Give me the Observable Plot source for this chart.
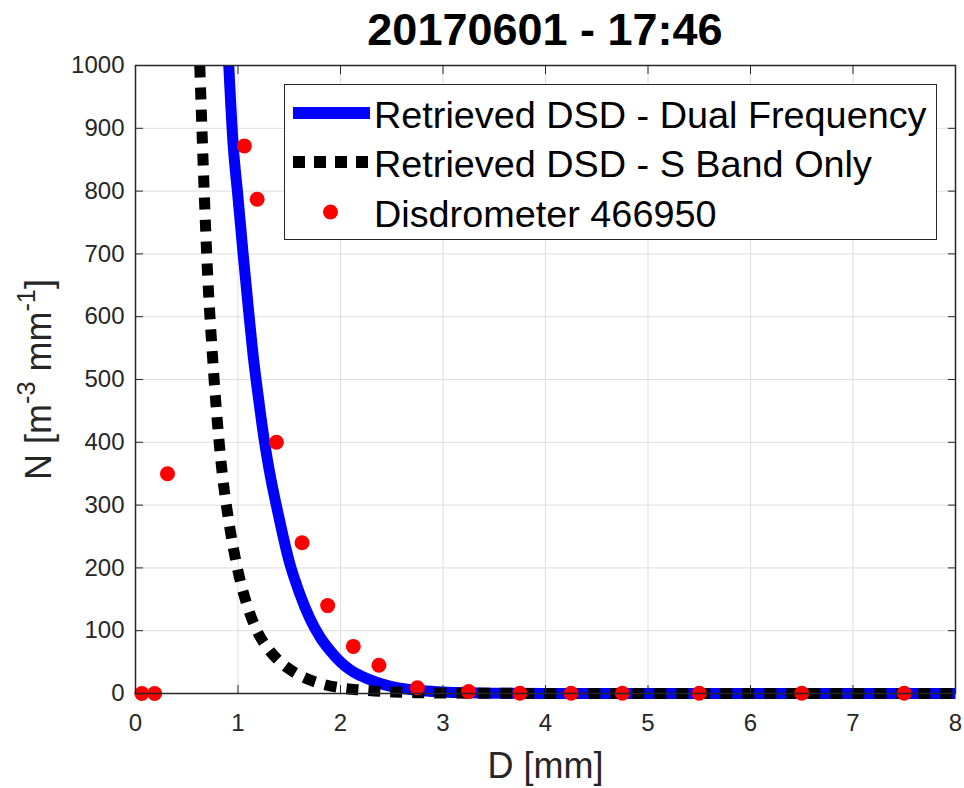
<!DOCTYPE html>
<html>
<head>
<meta charset="utf-8">
<script src="https://cdn.jsdelivr.net/npm/d3@7"></script>
<script src="https://cdn.jsdelivr.net/npm/@observablehq/plot@0.6"></script>
<style>
  html, body { margin: 0; padding: 0; background: #fff; }
  #wrap { position: relative; width: 964px; height: 788px; font-family: "Liberation Sans", Arial, sans-serif; }
  #title { height: 53px; padding-top: 2px; padding-left: 135px; width: 820px; text-align: center;
           font-weight: bold; font-size: 45px; line-height: 55px; color: #000; white-space: nowrap; }
  #legend { position: absolute; left: 284px; top: 84px; width: 653px; height: 156px; box-sizing: border-box;
            border: 1.5px solid #262626; background: #fff; }
  .row { position: absolute; left: 0; width: 100%; height: 49.5px; }
  .row svg { position: absolute; left: 8px; top: 14.75px; }
  .row span { position: absolute; left: 89px; top: 3px; font-size: 37.8px; line-height: 49.5px; color: #000; white-space: nowrap; }
</style>
</head>
<body>
<div id="wrap">
  <div id="title"></div>
  <div id="chart"></div>
  <div id="legend"></div>
</div>
<script>
// ---- data ----
const titleText = "20170601 - 17:46";

// Disdrometer 466950 (drop diameter bins, mm) and concentration
const disdroD = [0.062, 0.187, 0.312, 1.062, 1.187, 1.375, 1.625, 1.875, 2.125, 2.375, 2.75, 3.25, 3.75, 4.25, 4.75, 5.5, 6.5, 7.5];
const disdroN = [0, 0, 350, 872, 787, 400, 240, 140, 75, 45, 9, 3, 0.5, 0.5, 0.5, 0.5, 0.5, 0.5];

// Retrieved DSD - Dual Frequency
const dualD = [0.91, 0.95, 1.0, 1.05, 1.1, 1.15, 1.2, 1.25, 1.3, 1.4, 1.5, 1.6, 1.7, 1.8, 1.9, 2.0, 2.1, 2.2, 2.35, 2.5, 2.65, 2.8, 3.0, 3.25, 3.5, 4.0, 5.0, 6.0, 7.0, 8.0];
const dualN = [1000, 880, 790, 700, 615, 535, 470, 410, 360, 280, 210, 160, 120, 90, 68, 50, 37, 28, 18, 11, 7, 4.5, 2.5, 1.2, 0.5, 0.1, 0, 0, 0, 0];

// Retrieved DSD - S Band Only
const sbandD = [0.627, 0.65, 0.7, 0.75, 0.8, 0.85, 0.9, 1.0, 1.1, 1.2, 1.3, 1.4, 1.5, 1.6, 1.8, 2.0, 2.2, 2.5, 2.75, 3.0, 3.5, 4.0, 5.0, 6.0, 7.0, 8.0];
const sbandN = [1000, 890, 680, 540, 430, 345, 285, 195, 135, 95, 70, 52, 39, 29, 16, 9, 5.5, 2.5, 1.3, 0.8, 0.3, 0.1, 0, 0, 0, 0];

const xTicks = [0, 1, 2, 3, 4, 5, 6, 7, 8];
const yTicks = [0, 100, 200, 300, 400, 500, 600, 700, 800, 900, 1000];

const seriesNames = ["Retrieved DSD - Dual Frequency", "Retrieved DSD - S Band Only", "Disdrometer 466950"];
const xLabel = "D [mm]";

// ---- build tables ----
const dual = dualD.map((d, i) => ({D: d, N: dualN[i]}));
const sband = sbandD.map((d, i) => ({D: d, N: sbandN[i]}));
const disdro = disdroD.map((d, i) => ({D: d, N: disdroN[i]}));

document.getElementById("title").textContent = titleText;

const axisColor = "#262626";
const gridColor = "#dedede";

const plot = Plot.plot({
  width: 964,
  height: 733,
  marginTop: 10,
  marginBottom: 95,
  marginLeft: 135,
  marginRight: 9,
  style: {fontFamily: "'Liberation Sans', Arial, sans-serif", fontSize: "24px", color: axisColor, background: "white", overflow: "visible"},
  x: {domain: [0, 8]},
  y: {domain: [0, 1000]},
  marks: [
    Plot.gridX(xTicks, {stroke: gridColor, strokeOpacity: 1, strokeWidth: 1}),
    Plot.gridY(yTicks, {stroke: gridColor, strokeOpacity: 1, strokeWidth: 1}),
    Plot.line(dual, {x: "D", y: "N", stroke: "#0000ff", strokeWidth: 11, strokeLinecap: "butt", curve: "monotone-x"}),
    Plot.line(sband, {x: "D", y: "N", stroke: "#000000", strokeWidth: 11, strokeLinecap: "butt", strokeDasharray: "12,10", curve: "monotone-x"}),
    Plot.dot(disdro, {x: "D", y: "N", r: 7.5, fill: "#ff0000", stroke: null}),
    Plot.frame({stroke: axisColor, strokeWidth: 1.5}),
    Plot.axisX(xTicks, {anchor: "bottom", tickSize: -8, tickPadding: 28, stroke: axisColor, tickFormat: d => String(d), label: xLabel, labelAnchor: "center", labelOffset: 84, labelArrow: "none"}),
    Plot.axisX(xTicks, {anchor: "top", tickSize: -8, tickFormat: () => "", stroke: axisColor, label: null}),
    Plot.axisY(yTicks, {anchor: "left", tickSize: -8, tickPadding: 19, stroke: axisColor, tickFormat: d => String(d), label: "N", labelAnchor: "center", labelOffset: 110, labelArrow: "none"}),
    Plot.axisY(yTicks, {anchor: "right", tickSize: -8, tickFormat: () => "", stroke: axisColor, label: null})
  ]
});
document.getElementById("chart").appendChild(plot);

// axis label styling (font size + superscripts)
const svg = d3.select(plot);
const fs = 36;
svg.selectAll('g[aria-label="x-axis label"] text').attr("font-size", fs).attr("fill", axisColor);
const yl = svg.select('g[aria-label="y-axis label"] text').attr("font-size", fs).attr("fill", axisColor);
yl.selectAll("*").remove();
yl.text(null);
const parts = [["N [m", 0, 1], ["-3", -0.45, 0.7], [" mm", 0.45, 1], ["-1", -0.45, 0.7], ["]", 0.45, 1]];
parts.forEach(([t, shift, size]) => {
  yl.append("tspan")
    .attr("dy", shift === 0 ? null : shift * fs)
    .attr("font-size", size === 1 ? null : size * fs)
    .style("white-space", "pre")
    .text(t);
});

// ---- legend ----
const legend = d3.select("#legend");
const rowTop = [2.75, 52.25, 101.75];
const sw = [
  s => s.append("line").attr("x1", 0).attr("x2", 77).attr("y1", 10).attr("y2", 10).attr("stroke", "#0000ff").attr("stroke-width", 12),
  s => s.append("line").attr("x1", 0).attr("x2", 77).attr("y1", 10).attr("y2", 10).attr("stroke", "#000").attr("stroke-width", 12).attr("stroke-dasharray", "12,9"),
  s => s.append("circle").attr("cx", 37.5).attr("cy", 10).attr("r", 7.5).attr("fill", "#ff0000")
];
seriesNames.forEach((name, i) => {
  const row = legend.append("div").attr("class", "row").style("top", rowTop[i] + "px");
  const s = row.append("svg").attr("width", 78).attr("height", 20);
  sw[i](s);
  row.append("span").text(name);
});
</script>
</body>
</html>
